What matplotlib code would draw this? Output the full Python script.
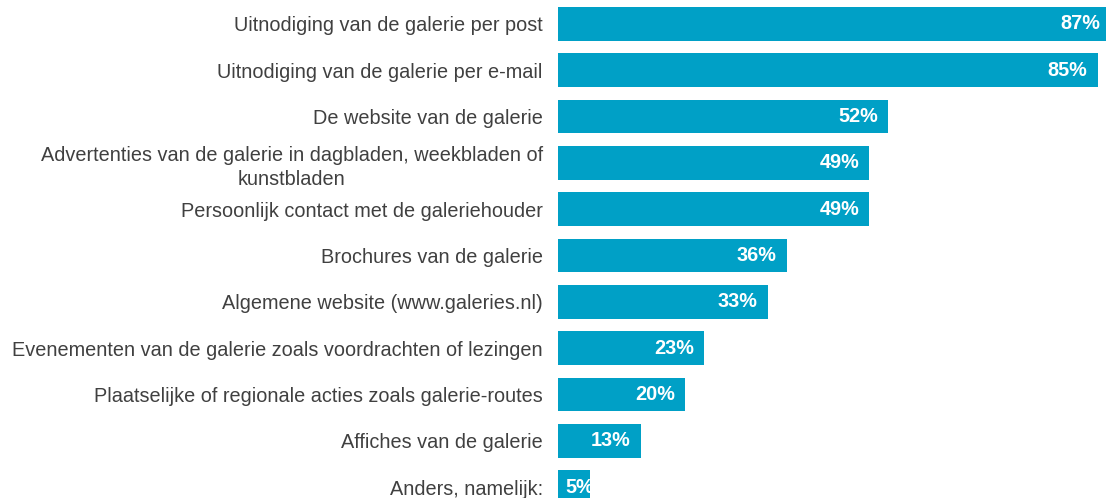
import matplotlib.pyplot as plt

plt.rcParams['font.family'] = ['Liberation Sans', 'DejaVu Sans']

# Hoe wordt u door de galerie op de hoogte gehouden
categories = [
    'Uitnodiging van de galerie per post',
    'Uitnodiging van de galerie per e-mail',
    'De website van de galerie',
    'Advertenties van de galerie in dagbladen, weekbladen of\nkunstbladen',
    'Persoonlijk contact met de galeriehouder',
    'Brochures van de galerie',
    'Algemene website (www.galeries.nl)',
    'Evenementen van de galerie zoals voordrachten of lezingen',
    'Plaatselijke of regionale acties zoals galerie-routes',
    'Affiches van de galerie',
    'Anders, namelijk:',
]
percentages = [87, 85, 52, 49, 49, 36, 33, 23, 20, 13, 5]

barColor = '#00A0C6'
labelColor = '#404040'

fig = plt.figure(figsize=(11.06, 4.98), dpi=100)
ax = fig.add_axes([558 / 1106, 0, 548 / 1106, 1])

pos = list(range(len(categories)))
bars = ax.barh(pos, percentages, height=0.73, color=barColor)

ax.set_xlim(0, 86.3)
ax.set_ylim(10.237, -0.518)

ax.set_yticks(pos)
ax.set_yticklabels(categories, fontsize=14.3, color=labelColor)
for lbl in ax.get_yticklabels():
    lbl.set_multialignment('center')
    lbl.set_linespacing(1.35)
ax.tick_params(axis='y', length=0, pad=11)
ax.set_xticks([])
for side in ['top', 'right', 'bottom', 'left']:
    ax.spines[side].set_visible(False)

# value labels: right-aligned inside the bar, or from the bar start when the bar is short
for bar, p, v in zip(bars, pos, percentages):
    if v >= 8:
        t = ax.annotate(f'{v}%', xy=(v, p), xytext=(-7.3, 0), textcoords='offset points',
                        ha='right', va='center', color='white', fontsize=14.3,
                        fontweight='bold', annotation_clip=False)
    else:
        t = ax.annotate(f'{v}%', xy=(0, p), xytext=(5, 0), textcoords='offset points',
                        ha='left', va='center', color='white', fontsize=14.3,
                        fontweight='bold', annotation_clip=False)
        t.set_clip_path(bar)

fig.savefig('out.png', dpi=100)
